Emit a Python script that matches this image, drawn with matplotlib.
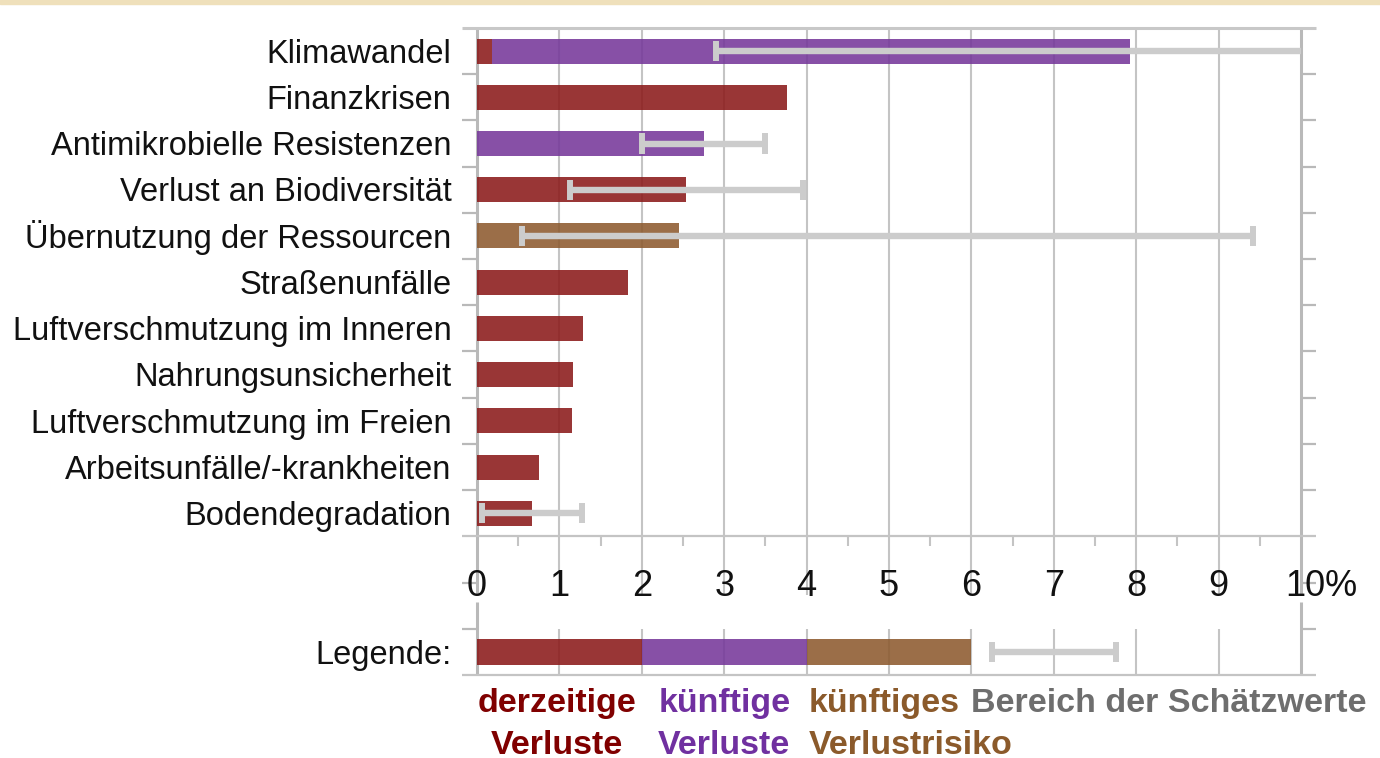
import matplotlib
matplotlib.use("Agg")
import matplotlib.pyplot as plt
from matplotlib.patches import Rectangle
import numpy as np

plt.rcParams['font.family'] = ['Liberation Sans', 'DejaVu Sans']

# ---------------- data ----------------
categories = [
    "Klimawandel",
    "Finanzkrisen",
    "Antimikrobielle Resistenzen",
    "Verlust an Biodiversität",
    "Übernutzung der Ressourcen",
    "Straßenunfälle",
    "Luftverschmutzung im Inneren",
    "Nahrungsunsicherheit",
    "Luftverschmutzung im Freien",
    "Arbeitsunfälle/-krankheiten",
    "Bodendegradation",
]
current_losses = [0.18, 3.76, 0.0, 2.54, 0.0, 1.83, 1.29, 1.17, 1.15, 0.75, 0.67]
future_losses = [7.74, 0.0, 2.75, 0.0, 0.0, 0.0, 0.0, 0.0, 0.0, 0.0, 0.0]
future_risk = [0.0, 0.0, 0.0, 0.0, 2.45, 0.0, 0.0, 0.0, 0.0, 0.0, 0.0]
range_low = [2.90, np.nan, 2.00, 1.13, 0.55, np.nan, np.nan, np.nan, np.nan, np.nan, 0.06]
range_high = [10.0, np.nan, 3.50, 3.96, 9.42, np.nan, np.nan, np.nan, np.nan, np.nan, 1.28]

x_ticks = [0, 1, 2, 3, 4, 5, 6, 7, 8, 9, 10]
x_tick_labels = ["0", "1", "2", "3", "4", "5", "6", "7", "8", "9", "10%"]

legend_label = "Legende:"
legend_segments = [2.0, 2.0, 2.0]
legend_range = (6.25, 7.75)
legend_texts = [("derzeitige", "Verluste"), ("künftige", "Verluste"),
                ("künftiges", "Verlustrisiko"), ("Bereich der Schätzwerte", "")]

# ---------------- styles ----------------
RED = '#8b1a1a'
PURPLE = '#76389a'
BROWN = '#8d5a2f'
BAR_ALPHA = 0.88
RANGE_C = '#cccccc'
GRID_C = '#c4c4c4'
AXIS_C = '#b9b9b9'
TXT_COLORS = ['#800000', '#7030a0', '#8b5a2b', '#6e6e6e']

W, H = 1380, 758
fig = plt.figure(figsize=(W / 100, H / 100), dpi=100)
fig.patches.append(Rectangle((0, 1 - 3.5 / H), 1, 3.5 / H, transform=fig.transFigure,
                             color='#efe0bb', zorder=0))

L, R, T, B = 477, 1301, 28, 675
ax = fig.add_axes([L / W, 1 - B / H, (R - L) / W, (B - T) / H])
ax.set_xlim(0, 10)
ax.set_ylim(14, 0)
ax.axis('off')

n = len(categories)
rows = np.arange(n) + 0.5
tk = 0.18  # tick length in data units

# grid lines
for x in range(1, 10):
    ax.vlines(x, 0, 12.27, color=GRID_C, lw=1.5, zorder=1, clip_on=False)
    ax.vlines(x, 13, 14, color=GRID_C, lw=1.5, zorder=1, clip_on=False)
for x in (0, 10):
    ax.vlines(x, 0, 12.27, color=AXIS_C, lw=2.2, zorder=1, clip_on=False)
    ax.vlines(x, 12.42, 14, color=AXIS_C, lw=2.2, zorder=1, clip_on=False)

# horizontal lines / ticks
ax.hlines(0, -tk, 10 + tk, color='#c8c8c8', lw=2.2, zorder=1, clip_on=False)
ax.hlines([11, 14], -tk, 10 + tk, color=GRID_C, lw=1.6, zorder=1, clip_on=False)
tick_rows = list(range(1, 11)) + [12, 13]
ax.hlines(tick_rows, -tk, 0, color=AXIS_C, lw=1.6, zorder=1, clip_on=False)
ax.hlines(tick_rows, 10, 10 + tk, color=AXIS_C, lw=1.6, zorder=1, clip_on=False)
ax.vlines(np.arange(0.5, 10, 1), 11, 11 + 10 / 46.2, color=GRID_C, lw=1.5,
          zorder=1, clip_on=False)

# bars
bh = 0.54
cur = np.array(current_losses)
fut = np.array(future_losses)
risk = np.array(future_risk)
ax.barh(rows, cur, height=bh, color=RED, alpha=BAR_ALPHA, zorder=2, lw=0)
ax.barh(rows, fut, left=cur, height=bh, color=PURPLE, alpha=BAR_ALPHA, zorder=2, lw=0)
ax.barh(rows, risk, left=cur + fut, height=bh, color=BROWN, alpha=BAR_ALPHA, zorder=2, lw=0)

# ranges
cap = 0.22


def draw_range(y, lo, hi):
    ax.hlines(y, lo, hi, color=RANGE_C, lw=4.6, zorder=3, clip_on=False)
    for v in (lo, hi):
        if 0 < v < 10:
            ax.vlines(v, y - cap, y + cap, color=RANGE_C, lw=4.3, zorder=3, clip_on=False)


for y, lo, hi in zip(rows, range_low, range_high):
    if not (np.isnan(lo) or np.isnan(hi)):
        draw_range(y, lo, hi)

# category labels
for y, c in zip(rows, categories):
    ax.text(-0.31, y + 0.253, c, ha='right', va='baseline', fontsize=23.5,
            color='#111111', clip_on=False)

# x tick labels
for v, lab in zip(x_ticks, x_tick_labels):
    if lab.endswith('%'):
        ax.text(v - 0.19, 12.29, lab, ha='left', va='baseline', fontsize=26,
                color='#111111', clip_on=False)
    else:
        ax.text(v, 12.29, lab, ha='center', va='baseline', fontsize=26,
                color='#111111', clip_on=False)

# legend row
ly = 13.5
leg_colors = [RED, PURPLE, BROWN]
left = 0.0
for w, col in zip(legend_segments, leg_colors):
    ax.barh(ly, w, left=left, height=0.56, color=col, alpha=BAR_ALPHA, zorder=2, lw=0)
    left += w
draw_range(ly, legend_range[0], legend_range[1])
ax.text(-0.31, ly + 0.253, legend_label, ha='right', va='baseline', fontsize=23.5,
        color='#111111', clip_on=False)

text_pos = [(0.97, 'center'), (3.0, 'center'), (4.03, 'left'), (5.99, 'left')]
for (l1, l2), (xp, ha), col in zip(legend_texts, text_pos, TXT_COLORS):
    ax.text(xp, 14.80, l1, ha=ha, va='baseline', fontsize=24.5, fontweight='bold',
            color=col, clip_on=False)
    if l2:
        ax.text(xp, 15.70, l2, ha=ha, va='baseline', fontsize=24.5, fontweight='bold',
                color=col, clip_on=False)

fig.savefig('out.png', dpi=100)
